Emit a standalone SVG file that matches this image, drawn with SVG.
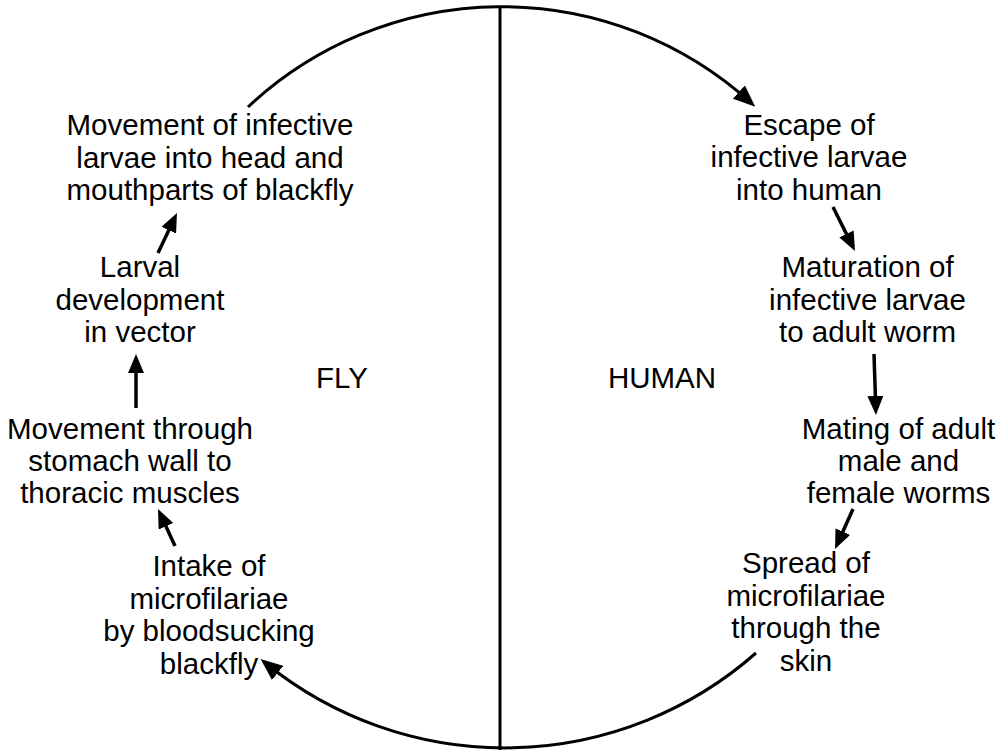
<svg xmlns="http://www.w3.org/2000/svg" width="996" height="750" viewBox="0 0 996 750">
<style>
text{font-family:"Liberation Sans",Arial,sans-serif;font-size:29.5px;fill:#000;text-anchor:middle}
.arc{fill:none;stroke:#000;stroke-width:3}
.arr{fill:none;stroke:#000;stroke-width:3.5}
</style>
<defs>
<marker id="h1" viewBox="0 0 19 16" refX="13" refY="8" markerWidth="19" markerHeight="16" markerUnits="userSpaceOnUse" orient="auto"><path d="M0,0 L19,8 L0,16 z" fill="#000"/></marker>
<marker id="h2" viewBox="0 0 22 18" refX="15" refY="9" markerWidth="22" markerHeight="18" markerUnits="userSpaceOnUse" orient="auto"><path d="M0,0 L22,9 L0,18 z" fill="#000"/></marker>
</defs>
<rect width="996" height="750" fill="#fff"/>
<g id="connectors">
<path class="arc" d="M500,7 L500,750"/>
<path class="arc" d="M248,107 A371,371 0 0 1 750,102" marker-end="url(#h2)"/>
<path class="arc" d="M756,653 A380,380 0 0 1 266,663.5" marker-end="url(#h2)"/>
<path class="arr" d="M158,253 L174.4,218.4" marker-end="url(#h1)"/>
<path class="arr" d="M136,408 L136,360" marker-end="url(#h1)"/>
<path class="arr" d="M175,546 L160.5,514.5" marker-end="url(#h1)"/>
<path class="arr" d="M833,207 L852.3,245.6" marker-end="url(#h1)"/>
<path class="arr" d="M874,354 L875.8,409" marker-end="url(#h1)"/>
<path class="arr" d="M853,509 L837.5,543.5" marker-end="url(#h1)"/>
</g>
<g id="n-movement-head"><text x="210" y="135">Movement of infective</text><text x="210" y="167.5">larvae into head and</text><text x="210" y="200">mouthparts of blackfly</text></g>
<g id="n-larval"><text x="140" y="277">Larval</text><text x="140" y="309.5">development</text><text x="140" y="342">in vector</text></g>
<g id="n-fly"><text x="342" y="388">FLY</text></g>
<g id="n-movement-stomach"><text x="130" y="438.5">Movement through</text><text x="130" y="470.5">stomach wall to</text><text x="130" y="502.5">thoracic muscles</text></g>
<g id="n-intake"><text x="209" y="576">Intake of</text><text x="209" y="608.5">microfilariae</text><text x="209" y="641">by bloodsucking</text><text x="209" y="673.5">blackfly</text></g>
<g id="n-escape"><text x="809" y="134.5">Escape of</text><text x="809" y="167">infective larvae</text><text x="809" y="199.5">into human</text></g>
<g id="n-maturation"><text x="867.5" y="277">Maturation of</text><text x="867.5" y="309.5">infective larvae</text><text x="867.5" y="342">to adult worm</text></g>
<g id="n-human"><text x="662" y="388">HUMAN</text></g>
<g id="n-mating"><text x="898.5" y="438.5">Mating of adult</text><text x="898.5" y="470.5">male and</text><text x="898.5" y="502.5">female worms</text></g>
<g id="n-spread"><text x="806" y="573">Spread of</text><text x="806" y="605.5">microfilariae</text><text x="806" y="638">through the</text><text x="806" y="670.5">skin</text></g>
</svg>
